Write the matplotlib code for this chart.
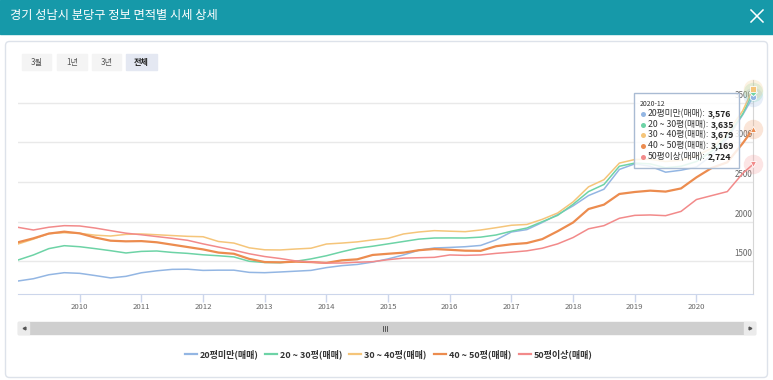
import matplotlib
matplotlib.use('Agg')
import matplotlib.pyplot as plt
from matplotlib.patches import Rectangle, FancyBboxPatch
import numpy as np

plt.rcParams['font.family'] = ['Noto Sans CJK KR', 'DejaVu Sans']

# months since 2009-01 (quarterly samples)
months = list(range(0, 142, 3)) + [143]

s20 = [1251, 1280, 1330, 1356, 1348, 1320, 1290, 1310, 1355, 1380, 1398, 1400,
       1385, 1388, 1388, 1360, 1356, 1365, 1375, 1385, 1420, 1445, 1460, 1490,
       1530, 1580, 1640, 1668, 1675, 1684, 1700, 1770, 1870, 1900, 1990, 2090,
       2200, 2330, 2410, 2660, 2730, 2700, 2625, 2650, 2690, 2840, 3050, 3350, 3576]
s2030 = [1516, 1580, 1660, 1697, 1684, 1660, 1634, 1605, 1625, 1630, 1612, 1600,
         1582, 1570, 1555, 1500, 1485, 1482, 1500, 1530, 1570, 1620, 1665, 1690,
         1720, 1750, 1780, 1794, 1795, 1794, 1805, 1832, 1880, 1920, 2000, 2080,
         2220, 2380, 2470, 2700, 2740, 2730, 2680, 2700, 2760, 2890, 3080, 3360, 3635]
s3040 = [1718, 1780, 1850, 1861, 1853, 1830, 1819, 1840, 1845, 1835, 1825, 1815,
         1810, 1750, 1730, 1670, 1645, 1643, 1655, 1665, 1718, 1730, 1745, 1770,
         1790, 1845, 1870, 1887, 1880, 1874, 1895, 1924, 1955, 1965, 2030, 2110,
         2250, 2440, 2530, 2740, 2785, 2788, 2760, 2775, 2830, 2930, 3120, 3400, 3679]
s4050 = [1740, 1790, 1850, 1874, 1853, 1800, 1760, 1752, 1755, 1740, 1710, 1680,
         1650, 1610, 1595, 1530, 1490, 1487, 1495, 1490, 1480, 1512, 1525, 1580,
         1595, 1609, 1640, 1655, 1645, 1634, 1632, 1690, 1715, 1730, 1780, 1880,
         1990, 2160, 2215, 2350, 2375, 2392, 2380, 2420, 2560, 2680, 2750, 2990, 3169]
s50 = [1929, 1895, 1930, 1950, 1946, 1920, 1887, 1855, 1835, 1812, 1790, 1765,
       1720, 1680, 1640, 1595, 1560, 1535, 1505, 1490, 1478, 1478, 1488, 1495,
       1520, 1540, 1545, 1550, 1580, 1575, 1580, 1600, 1615, 1632, 1665, 1720,
       1800, 1910, 1950, 2043, 2080, 2085, 2076, 2130, 2280, 2330, 2380, 2610, 2724]

names = ['20평미만(매매)', '20 ~ 30평(매매)', '30 ~ 40평(매매)', '40 ~ 50평(매매)', '50평이상(매매)']
series = [s20, s2030, s3040, s4050, s50]
colors = ['#93b6e3', '#6dd3a6', '#f5c57a', '#ec8c4f', '#f28a8a']
markers = ['o', 'D', 's', '^', 'v']
year_ticks = list(range(2010, 2021))
y_ticks = [1500, 2000, 2500, 3000, 3500]
last_label = '2020-12'

W, H = 773, 380
fig = plt.figure(figsize=(W / 100, H / 100), dpi=100)

# background canvas in pixel coords
bg = fig.add_axes([0, 0, 1, 1], zorder=0)
bg.set_xlim(0, W)
bg.set_ylim(H, 0)
bg.axis('off')

teal = '#1699a9'
bg.add_patch(Rectangle((0, 0), W, 33.5, color=teal))
bg.text(10, 16, '경기 성남시 분당구 정보 면적별 시세 상세', color='white',
        fontsize=8.8, va='center', ha='left')
bg.plot([751, 763], [10, 22], color='white', lw=1.1)
bg.plot([751, 763], [22, 10], color='white', lw=1.1)

bg.add_patch(FancyBboxPatch((5.5, 41.5), 762, 336, boxstyle='round,pad=0,rounding_size=4',
                            fc='white', ec='#dde2ea', lw=1))

# period buttons
btns = [('3월', 22, 51), ('1년', 57, 87), ('3년', 92, 121), ('전체', 126, 157)]
for lab, x0, x1 in btns:
    active = lab == '전체'
    bg.add_patch(Rectangle((x0, 54), x1 - x0, 16, color='#e4e8f2' if active else '#f4f4f4'))
    bg.text((x0 + x1) / 2, 62, lab, fontsize=5.8, ha='center', va='center',
            color='#222' if active else '#555', fontweight='bold' if active else 'normal')

# scrollbar
bg.add_patch(Rectangle((18, 322), 737, 12, color='#cfcfcf'))
bg.add_patch(Rectangle((18, 322), 11, 12, color='#ebebeb'))
bg.add_patch(Rectangle((744, 322), 11, 12, color='#ebebeb'))
bg.plot([23.5], [328], marker='<', ms=2, color='#555')
bg.plot([749.5], [328], marker='>', ms=2, color='#555')
for dx in (-2, 0, 2):
    bg.plot([385 + dx, 385 + dx], [325.5, 330.5], color='#444', lw=0.6)

# legend
leg_x = [185, 265, 349, 434, 519]
for nm, c, lx in zip(names, colors, leg_x):
    bg.plot([lx, lx + 12], [354, 354], color=c, lw=1.6)
    bg.text(lx + 15, 354, nm, fontsize=6.5, fontweight='bold', color='#333',
            ha='left', va='center')

# main chart
ax = fig.add_axes([18 / W, (H - 294) / H, 735 / W, 214 / H], zorder=2)
ax.patch.set_alpha(0)
x = 2009 + np.array(months) / 12
for i, (s, c) in enumerate(zip(series, colors)):
    ax.plot(x, s, color=c, lw=1.6 if i == 3 else 1.1, zorder=3)
ax.set_xlim(x[0], x[-1])
ax.set_ylim(1087, 3789)
ax.set_yticks(y_ticks)
ax.yaxis.grid(True, color='#e9e9e9', lw=1)
ax.tick_params(axis='y', length=0, labelleft=False)
for yv in y_ticks:
    ax.text(0.9995, yv + 40, str(yv), transform=ax.get_yaxis_transform(),
            ha='right', va='bottom', fontsize=5.8, color='#666', zorder=2)
ax.set_xticks(year_ticks)
ax.set_xticklabels([str(y) for y in year_ticks], fontsize=5.6, color='#666')
ax.tick_params(axis='x', length=6, color='#ccd6eb', width=1, pad=0.5)
for sp in ['top', 'left']:
    ax.spines[sp].set_visible(False)
ax.spines['bottom'].set_color('#ccd6eb')
ax.spines['right'].set_color('#d6d6d6')
ax.spines['right'].set_linewidth(0.8)

# end markers with halo
for s, c, m in zip(series, colors, markers):
    ax.plot(x[-1], s[-1], marker='o', ms=14, color=c, alpha=0.22, mec='none',
            clip_on=False, zorder=4)
    ax.plot(x[-1], s[-1], marker=m, ms=4.5, color=c, mec='white', mew=0.6,
            clip_on=False, zorder=5)

# tooltip overlay
ov = fig.add_axes([0, 0, 1, 1], zorder=6)
ov.set_xlim(0, W)
ov.set_ylim(H, 0)
ov.axis('off')
ov.add_patch(Rectangle((634, 93), 105, 75, fc='white', alpha=0.85, ec='none'))
ov.add_patch(Rectangle((634, 93), 105, 75, fc='none', ec='#a9bbd3', lw=1))
ov.text(640, 104, last_label, fontsize=5, color='#333', va='center')
row_y = [114, 124.5, 135, 146, 157]
for nm, s, c, ry in zip(names, series, colors, row_y):
    ov.plot([643], [ry], marker='o', ms=3.6, color=c, mec='none')
    t = ov.text(647.5, ry, nm + ':', fontsize=6.3, color='#333', va='center')
    ov.annotate(f'{s[-1]:,}', xy=(1, 0.5), xycoords=t, xytext=(2, 0),
                textcoords='offset points', fontsize=6.3, color='#222',
                fontweight='bold', va='center', ha='left')

fig.savefig('out.png', dpi=100)
